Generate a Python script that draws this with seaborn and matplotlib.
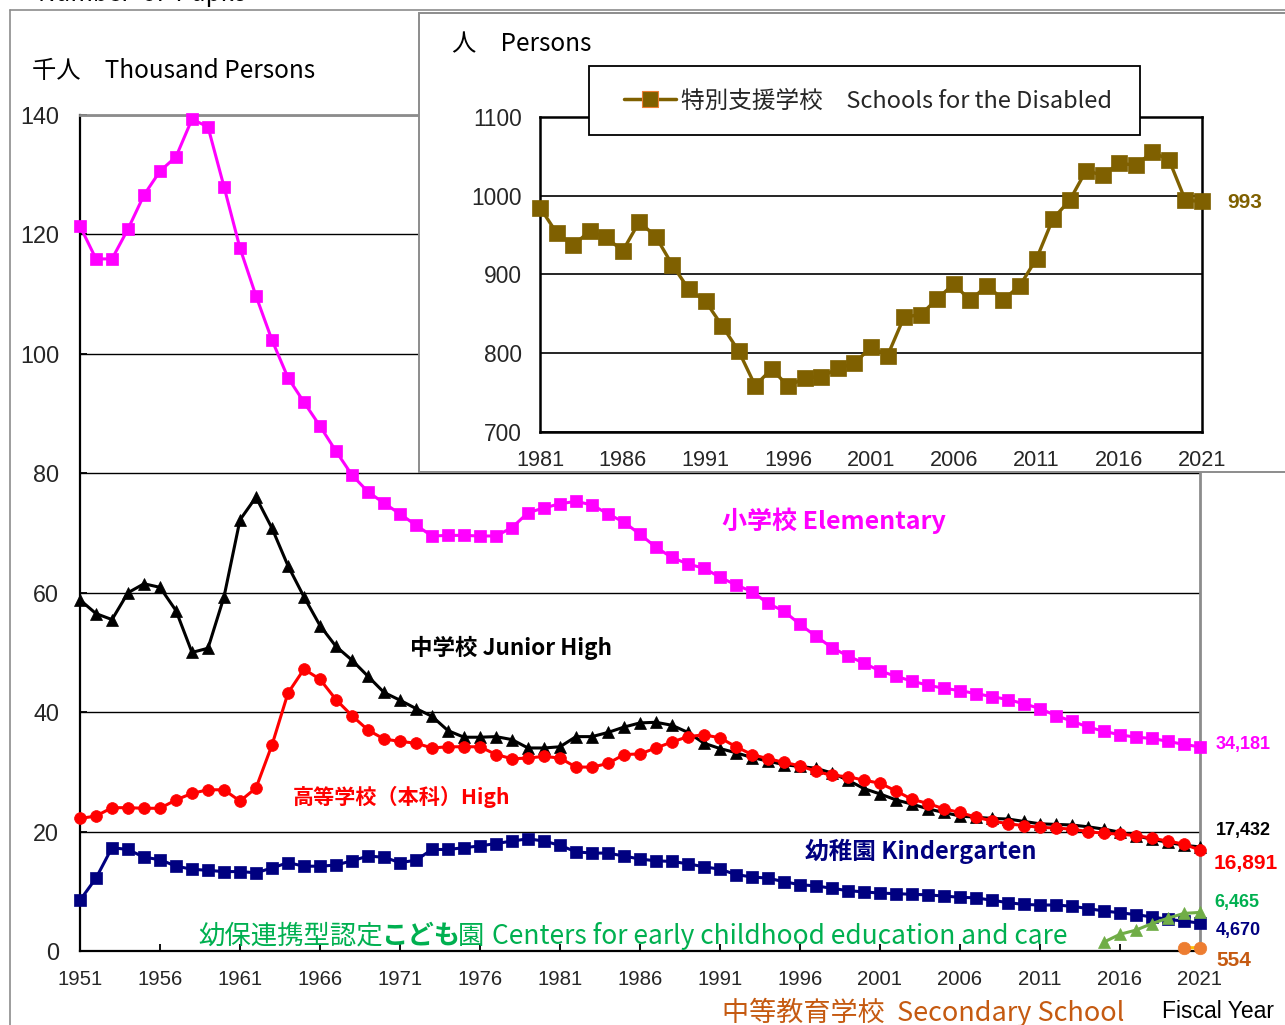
import matplotlib
matplotlib.use("Agg")
import matplotlib.pyplot as plt
import seaborn as sns
import pandas as pd
from matplotlib.lines import Line2D
from matplotlib.patches import Rectangle
from matplotlib import font_manager

W, H = 1285, 1025

# ---------------- data ----------------
years = list(range(1951, 2022))
elementary = [121.4, 115.9, 115.9, 120.9, 126.6, 130.6, 133.0, 139.3, 138.0, 128.0,
              117.7, 109.7, 102.3, 96.0, 91.9, 87.9, 83.7, 79.7, 76.9, 75.0,
              73.2, 71.3, 69.5, 69.6, 69.6, 69.5, 69.5, 70.9, 73.4, 74.2,
              74.9, 75.3, 74.7, 73.2, 71.8, 69.8, 67.6, 65.9, 64.8, 64.1,
              62.6, 61.3, 60.2, 58.2, 56.9, 54.7, 52.7, 50.8, 49.4, 48.2,
              46.9, 46.0, 45.2, 44.5, 44.0, 43.6, 43.1, 42.6, 42.1, 41.4,
              40.6, 39.4, 38.5, 37.5, 36.8, 36.2, 35.8, 35.6, 35.1, 34.6,
              34.181]
junior_high = [58.8, 56.5, 55.5, 60.0, 61.5, 60.9, 57.0, 50.0, 50.7, 59.3,
               72.2, 76.0, 70.8, 64.5, 59.3, 54.5, 51.0, 48.7, 46.0, 43.3,
               42.0, 40.6, 39.3, 36.9, 35.8, 35.8, 35.9, 35.4, 34.0, 34.0,
               34.2, 35.9, 35.9, 36.6, 37.5, 38.2, 38.3, 37.8, 36.6, 34.8,
               33.9, 33.2, 32.4, 31.8, 31.2, 30.9, 30.6, 29.8, 28.6, 27.2,
               26.3, 25.3, 24.6, 23.8, 23.2, 22.6, 22.4, 22.2, 22.1, 21.7,
               21.3, 21.2, 21.1, 20.8, 20.4, 19.9, 19.3, 18.7, 18.2, 17.7,
               17.432]
high_school = [22.2, 22.6, 24.0, 24.0, 23.9, 23.9, 25.3, 26.4, 27.0, 27.0,
               25.1, 27.3, 34.5, 43.2, 47.2, 45.5, 42.1, 39.4, 37.0, 35.5,
               35.1, 34.8, 34.0, 34.2, 34.2, 34.2, 32.9, 32.2, 32.3, 32.6,
               32.3, 30.8, 30.8, 31.4, 32.9, 33.0, 34.0, 35.0, 35.9, 36.2,
               35.7, 34.2, 32.9, 32.2, 31.6, 31.0, 30.1, 29.4, 29.2, 28.6,
               28.1, 26.8, 25.4, 24.7, 23.8, 23.2, 22.4, 21.8, 21.3, 21.0,
               20.7, 20.6, 20.4, 20.0, 19.7, 19.6, 19.3, 18.9, 18.4, 17.9,
               16.891]
kindergarten = [8.5, 12.2, 17.3, 17.0, 15.7, 15.3, 14.2, 13.7, 13.5, 13.3,
                13.3, 13.1, 13.9, 14.8, 14.2, 14.2, 14.4, 15.1, 15.9, 15.7,
                14.8, 15.2, 17.0, 17.0, 17.3, 17.6, 18.0, 18.4, 18.8, 18.4,
                17.7, 16.6, 16.4, 16.4, 15.9, 15.4, 15.1, 15.0, 14.6, 14.1,
                13.7, 12.8, 12.4, 12.2, 11.6, 11.1, 10.9, 10.5, 10.1, 9.9,
                9.7, 9.6, 9.5, 9.4, 9.2, 9.0, 8.9, 8.5, 8.1, 7.8,
                7.7, 7.7, 7.5, 7.1, 6.7, 6.4, 6.1, 5.7, 5.3, 5.0,
                4.67]
centers_years = [2015, 2016, 2017, 2018, 2019, 2020, 2021]
centers = [1.5, 2.8, 3.5, 4.6, 5.5, 6.3, 6.465]
secondary_years = [2020, 2021]
secondary = [0.55, 0.554]

disabled_years = list(range(1981, 2022))
disabled = [985, 953, 937, 955, 947, 930, 967, 948, 912, 881,
            866, 835, 803, 759, 780, 758, 769, 770, 781, 787,
            808, 797, 846, 849, 869, 888, 867, 886, 868, 886,
            920, 971, 994, 1032, 1026, 1041, 1039, 1055, 1046, 994,
            993]

main_xticks = [1951, 1956, 1961, 1966, 1971, 1976, 1981, 1986, 1991, 1996,
               2001, 2006, 2011, 2016, 2021]
main_yticks = [0, 20, 40, 60, 80, 100, 120, 140]
inset_xticks = [1981, 1986, 1991, 1996, 2001, 2006, 2011, 2016, 2021]
inset_yticks = [700, 800, 900, 1000, 1100]

end_labels = ["34,181", "17,432", "16,891", "6,465", "4,670", "554"]
inset_end_label = "993"

# ---------------- style ----------------
sns.set_style("white")
plt.rcParams["font.family"] = ["Noto Sans CJK JP", "DejaVu Sans"]

names = {f.name for f in font_manager.fontManager.ttflist}
if "Liberation Sans Narrow" in names:
    TFONT, TSCALE = "Liberation Sans Narrow", 1.0
else:
    TFONT, TSCALE = "Liberation Sans", 0.84

C_EL = "#FF00FF"
C_JH = "#000000"
C_HS = "#FF0000"
C_KG = "#000080"
C_CE = "#70AD47"
C_CE_T = "#00B050"
C_SE = "#ED7D31"
C_SE_T = "#C55A11"
C_DIS = "#7F6000"
GRAY = "#8C8C8C"

fig = plt.figure(figsize=(W / 100, H / 100), dpi=100)
fig.patch.set_facecolor("white")


def fx(x):
    return x / W


def fy(y):
    return 1 - y / H


# outer chart frame
fig.add_artist(Line2D([fx(10), 1.0], [fy(10), fy(10)], color=GRAY, lw=1.2,
                      transform=fig.transFigure, zorder=1))
fig.add_artist(Line2D([fx(10), fx(10)], [fy(10), 0.0], color=GRAY, lw=1.2,
                      transform=fig.transFigure, zorder=1))

# ---------------- main axes ----------------
ax = fig.add_axes([fx(80), fy(951), (1200 - 80) / W, (951 - 115) / H], zorder=0)
ax.set_facecolor("white")


def draw(axis, xs, ys, color, marker, ms, lw=2.2, lcolor=None):
    df = pd.DataFrame({"x": xs, "y": ys})
    sns.lineplot(data=df, x="x", y="y", ax=axis, color=lcolor or color,
                 marker=marker, markersize=ms, linewidth=lw,
                 markerfacecolor=color, markeredgecolor=color,
                 markeredgewidth=0.5, clip_on=False, zorder=4,
                 estimator=None, sort=False)


draw(ax, years, elementary, C_EL, "s", 8)
draw(ax, years, junior_high, C_JH, "^", 8.5)
draw(ax, years, high_school, C_HS, "o", 8.5)
draw(ax, years, kindergarten, C_KG, "s", 8)
draw(ax, centers_years, centers, C_CE, "^", 9)
draw(ax, secondary_years, secondary, C_SE, "o", 9, lcolor="#FFC000")

ax.set_xlim(1951, 2021)
ax.set_ylim(0, 140)
ax.set_xlabel("")
ax.set_ylabel("")
ax.set_xticks(main_xticks)
ax.set_xticklabels([str(v) for v in main_xticks], fontfamily=TFONT,
                   fontsize=17.5 * TSCALE)
ax.set_yticks(main_yticks)
ax.set_yticklabels([str(v) for v in main_yticks], fontfamily=TFONT,
                   fontsize=20 * TSCALE)
ax.tick_params(axis="x", direction="in", length=5, width=1.3, color="black",
               pad=14, bottom=True, top=False)
ax.tick_params(axis="y", direction="in", length=5, width=1.3, color="black",
               pad=15, left=True, right=False)
ax.grid(False)
ax.grid(axis="y", color="black", lw=1.0)
for s in ["left", "bottom"]:
    ax.spines[s].set_color("black")
    ax.spines[s].set_linewidth(1.6)
for s in ["top", "right"]:
    ax.spines[s].set_color(GRAY)
    ax.spines[s].set_linewidth(2.0)

# ---------------- inset box ----------------
fig.add_artist(Rectangle((fx(419), fy(472)), (W + 10 - 419) / W, (472 - 13) / H,
                         transform=fig.transFigure, facecolor="white",
                         edgecolor=GRAY, lw=1.4, zorder=2))

axi = fig.add_axes([fx(540), fy(432), (1202 - 540) / W, (432 - 117) / H], zorder=3)
axi.set_facecolor("white")
draw(axi, disabled_years, disabled, C_DIS, "s", 11.5, lw=2.4)
axi.set_xlim(1981, 2021)
axi.set_ylim(700, 1100)
axi.set_xlabel("")
axi.set_ylabel("")
axi.set_xticks(inset_xticks)
axi.set_xticklabels([str(v) for v in inset_xticks], fontfamily=TFONT,
                    fontsize=18.5 * TSCALE)
axi.set_yticks(inset_yticks)
axi.set_yticklabels([str(v) for v in inset_yticks], fontfamily=TFONT,
                    fontsize=19.5 * TSCALE)
axi.tick_params(axis="x", direction="in", length=6, width=1.3, pad=13)
axi.tick_params(axis="y", direction="in", length=0, pad=13)
axi.grid(False)
axi.grid(axis="y", color="black", lw=1.2)
for s in axi.spines.values():
    s.set_color("black")
    s.set_linewidth(1.8)

# legend box (drawn at the reference position) + legend content
fig.add_artist(Rectangle((fx(589), fy(135)), (1140 - 589) / W, (135 - 66) / H,
                         transform=fig.transFigure, facecolor="white",
                         edgecolor="black", lw=1.3, zorder=4.5))
h = Line2D([], [], color=C_DIS, lw=2.5, marker="s", markersize=11,
           markerfacecolor=C_DIS, markeredgecolor=C_SE, markeredgewidth=0.8)
leg = fig.legend([h], ["特別支援学校　Schools for the Disabled"], loc="center",
                 bbox_to_anchor=(fx(868), fy(101)),
                 bbox_transform=fig.transFigure, frameon=False,
                 fontsize=17, handlelength=2.2, handletextpad=0.2,
                 borderpad=0, borderaxespad=0)
leg.set_zorder(5)


# ---------------- texts ----------------
def t(x, y, s, **kw):
    kw.setdefault("va", "center")
    kw.setdefault("ha", "left")
    return fig.text(fx(x), fy(y), s, zorder=6, **kw)


renderer = fig.canvas.get_renderer()


def runs(x, y, parts, gap=0.0):
    cur = x
    for s, extra, kw in parts:
        cur += extra
        tx = t(cur, y, s, **kw)
        cur += tx.get_window_extent(renderer).width + gap


t(38, -6, "Number  of  Pupils", fontsize=17.5, color="black")
t(32, 71, "千人　Thousand Persons", fontsize=17.5, color="black")
t(452, 44, "人　Persons", fontsize=17.5, color="black")

t(722, 521, "小学校 Elementary", fontsize=18, fontweight="bold", color=C_EL)
t(410, 648, "中学校 Junior High", fontsize=16.2, fontweight="bold", color=C_JH)
t(293, 797, "高等学校（本科）High", fontsize=15.2, fontweight="bold", color=C_HS)
t(805, 851, "幼稚園 Kindergarten", fontsize=17, fontweight="bold", color=C_KG)

gfs = 19.0
runs(198, 936, [
    ("幼保連携型認定", 0, dict(fontsize=gfs, color=C_CE_T)),
    ("こども", -2, dict(fontsize=gfs, color=C_CE_T, fontweight="bold")),
    ("園", -2, dict(fontsize=gfs, color=C_CE_T)),
    ("Centers for early childhood education and care", 8,
     dict(fontsize=gfs, color=C_CE_T)),
])
t(722, 1012, "中等教育学校  Secondary School", fontsize=19.5, color=C_SE_T)
t(1162, 1011, "Fiscal Year", fontsize=16.5, color="black", family="Liberation Sans")

t(1216, 744, end_labels[0], fontsize=13, fontweight="bold", color=C_EL,
  family="Liberation Sans")
t(1216, 830, end_labels[1], fontsize=13, fontweight="bold", color=C_JH,
  family="Liberation Sans")
t(1214, 864, end_labels[2], fontsize=15, fontweight="bold", color=C_HS,
  family="Liberation Sans")
t(1214, 902, end_labels[3], fontsize=13, fontweight="bold", color=C_CE_T,
  family="Liberation Sans")
t(1216, 931, end_labels[4], fontsize=13, fontweight="bold", color=C_KG,
  family="Liberation Sans")
t(1216, 960, end_labels[5], fontsize=15, fontweight="bold", color=C_SE_T,
  family="Liberation Sans")
t(1227, 202, inset_end_label, fontsize=15, fontweight="bold", color=C_DIS,
  family="Liberation Sans")

fig.savefig("out.png", dpi=100)
